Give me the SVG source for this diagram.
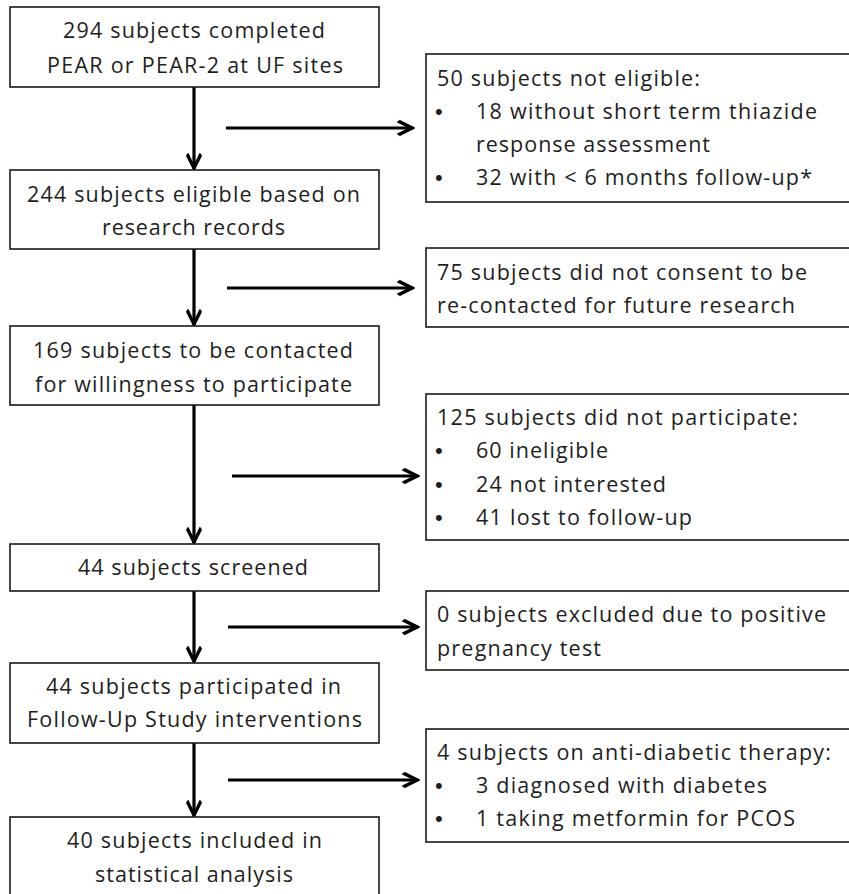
<svg xmlns="http://www.w3.org/2000/svg" width="849" height="894" viewBox="0 0 849 894">
<style>
.box{fill:#fff;stroke:#1a1a1a;stroke-width:1.6}
.t{font-family:"Open Sans","Noto Sans","Liberation Sans",sans-serif;font-size:21.5px;fill:#1e1e1e}
.b{font-family:"Liberation Sans",sans-serif;font-size:22px;fill:#1e1e1e}
.c{fill:none;stroke:#000;stroke-width:3.2}
</style>
<defs>
<marker id="ah" markerUnits="userSpaceOnUse" viewBox="0 0 18 18" refX="16" refY="9" markerWidth="18" markerHeight="18" orient="auto">
<path d="M1,1.5 L16.5,9 L1,16.5 L0,14.5 L11.5,9 L0,3.5 z" fill="#000"/>
<path d="M2,2 L16,9 L2,16" fill="none" stroke="#000" stroke-width="2.6"/>
</marker>
</defs>
<rect width="849" height="894" fill="#fff"/>
<g id="connectors">
<line class="c" x1="194" y1="87" x2="194" y2="169" marker-end="url(#ah)"/>
<line class="c" x1="194" y1="249" x2="194" y2="325" marker-end="url(#ah)"/>
<line class="c" x1="194" y1="405" x2="194" y2="543" marker-end="url(#ah)"/>
<line class="c" x1="194" y1="591" x2="194" y2="662" marker-end="url(#ah)"/>
<line class="c" x1="194" y1="743" x2="194" y2="816" marker-end="url(#ah)"/>
<line class="c" x1="226" y1="128" x2="413" y2="128" marker-end="url(#ah)"/>
<line class="c" x1="227" y1="288" x2="413" y2="288" marker-end="url(#ah)"/>
<line class="c" x1="232" y1="476" x2="418" y2="476" marker-end="url(#ah)"/>
<line class="c" x1="228" y1="627" x2="418" y2="627" marker-end="url(#ah)"/>
<line class="c" x1="228" y1="780" x2="418" y2="780" marker-end="url(#ah)"/>
</g>
<g id="n1">
<rect class="box" x="10" y="7" width="369" height="80"/>
<text class="t" x="63" y="37.5" textLength="262" lengthAdjust="spacing">294 subjects completed</text>
<text class="t" x="47" y="72.5" textLength="296" lengthAdjust="spacing">PEAR or PEAR-2 at UF sites</text>
</g>
<g id="n2">
<rect class="box" x="10" y="170" width="369" height="79"/>
<text class="t" x="27" y="201.5" textLength="333" lengthAdjust="spacing">244 subjects eligible based on</text>
<text class="t" x="102" y="235" textLength="183" lengthAdjust="spacing">research records</text>
</g>
<g id="n3">
<rect class="box" x="10" y="326" width="369" height="79"/>
<text class="t" x="33" y="358" textLength="320" lengthAdjust="spacing">169 subjects to be contacted</text>
<text class="t" x="35" y="391.5" textLength="317" lengthAdjust="spacing">for willingness to participate</text>
</g>
<g id="n4">
<rect class="box" x="10" y="544" width="369" height="47"/>
<text class="t" x="78" y="575" textLength="230" lengthAdjust="spacing">44 subjects screened</text>
</g>
<g id="n5">
<rect class="box" x="10" y="663" width="369" height="80"/>
<text class="t" x="46" y="694" textLength="295" lengthAdjust="spacing">44 subjects participated in</text>
<text class="t" x="27" y="727" textLength="335" lengthAdjust="spacing">Follow-Up Study interventions</text>
</g>
<g id="n6">
<rect class="box" x="10" y="817" width="369" height="90"/>
<text class="t" x="67" y="848" textLength="255" lengthAdjust="spacing">40 subjects included in</text>
<text class="t" x="95" y="882" textLength="198" lengthAdjust="spacing">statistical analysis</text>
</g>
<g id="r1">
<rect class="box" x="426" y="54" width="430" height="148"/>
<text class="t" x="437" y="86" textLength="263" lengthAdjust="spacing">50 subjects not eligible:</text>
<text class="b" x="435" y="119">•</text>
<text class="t" x="476" y="119" textLength="341" lengthAdjust="spacing">18 without short term thiazide</text>
<text class="t" x="476" y="152" textLength="234" lengthAdjust="spacing">response assessment</text>
<text class="b" x="435" y="185">•</text>
<text class="t" x="476" y="185" textLength="336" lengthAdjust="spacing">32 with &lt; 6 months follow-up*</text>
</g>
<g id="r2">
<rect class="box" x="426" y="248" width="430" height="79"/>
<text class="t" x="437" y="280" textLength="370" lengthAdjust="spacing">75 subjects did not consent to be</text>
<text class="t" x="437" y="313" textLength="358" lengthAdjust="spacing">re-contacted for future research</text>
</g>
<g id="r3">
<rect class="box" x="426" y="394" width="430" height="146"/>
<text class="t" x="437" y="425" textLength="361" lengthAdjust="spacing">125 subjects did not participate:</text>
<text class="b" x="435" y="458">•</text>
<text class="t" x="476" y="458" textLength="132" lengthAdjust="spacing">60 ineligible</text>
<text class="b" x="435" y="492">•</text>
<text class="t" x="476" y="492" textLength="190" lengthAdjust="spacing">24 not interested</text>
<text class="b" x="435" y="525">•</text>
<text class="t" x="476" y="525" textLength="216" lengthAdjust="spacing">41 lost to follow-up</text>
</g>
<g id="r4">
<rect class="box" x="426" y="591" width="430" height="79"/>
<text class="t" x="437" y="622" textLength="389" lengthAdjust="spacing">0 subjects excluded due to positive</text>
<text class="t" x="437" y="656" textLength="164" lengthAdjust="spacing">pregnancy test</text>
</g>
<g id="r5">
<rect class="box" x="426" y="729" width="430" height="113"/>
<text class="t" x="437" y="760" textLength="394" lengthAdjust="spacing">4 subjects on anti-diabetic therapy:</text>
<text class="b" x="435" y="793">•</text>
<text class="t" x="476" y="793" textLength="291" lengthAdjust="spacing">3 diagnosed with diabetes</text>
<text class="b" x="435" y="826">•</text>
<text class="t" x="476" y="826" textLength="319" lengthAdjust="spacing">1 taking metformin for PCOS</text>
</g>
</svg>
